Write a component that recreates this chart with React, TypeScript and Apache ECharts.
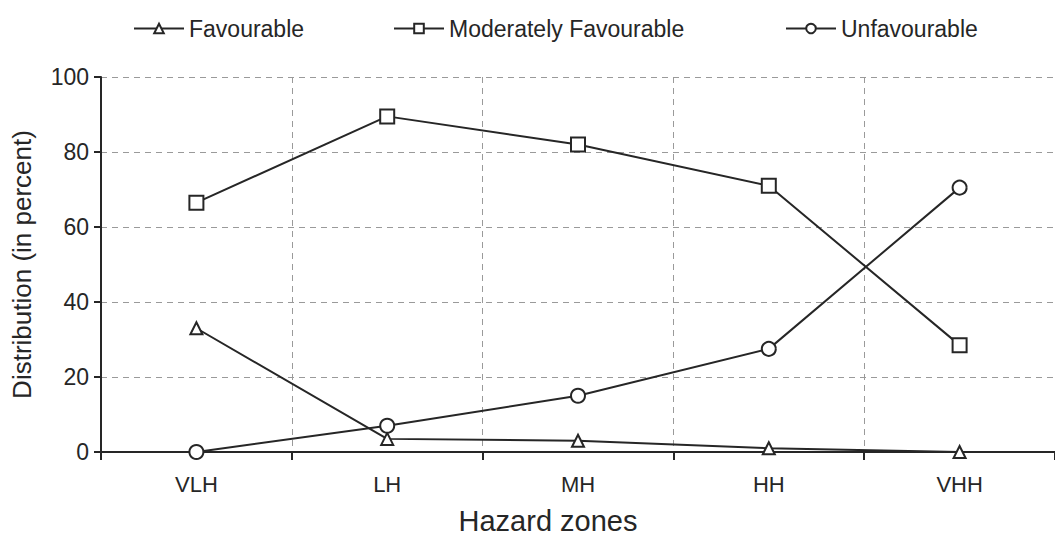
import React, { useEffect, useRef } from "react";
import * as echarts from "echarts";

const categories = ["VLH", "LH", "MH", "HH", "VHH"];
const favourable = [33, 3.5, 3, 1, 0];
const moderatelyFavourable = [66.5, 89.5, 82, 71, 28.5];
const unfavourable = [0, 7, 15, 27.5, 70.5];
const seriesNames = ["Favourable", "Moderately Favourable", "Unfavourable"];
const yMin = 0;
const yMax = 100;
const yStep = 20;

const INK = "#262626";
const FONT = "'Liberation Sans', Arial, sans-serif";

export default function App() {
  const ref = useRef<HTMLDivElement>(null);

  useEffect(() => {
    if (!ref.current) return;
    const chart = echarts.init(ref.current, undefined, { renderer: "svg" });

    const lineSeries = (name: string, data: number[], symbol: string, size: number) => ({
      name,
      type: "line",
      data,
      symbol,
      symbolSize: size,
      showAllSymbol: true,
      lineStyle: { color: INK, width: 2 },
      itemStyle: { color: "#ffffff", borderColor: INK, borderWidth: 2 },
      emphasis: { disabled: true },
    });

    const legendBase = {
      top: 12,
      itemWidth: 50,
      itemHeight: 12,
      itemGap: 0,
      textStyle: { fontFamily: FONT, fontSize: 23, color: INK, padding: [0, 0, 0, 0] },
      selectedMode: false,
    };

    chart.setOption({
      animation: false,
      backgroundColor: "#ffffff",
      textStyle: { fontFamily: FONT },
      legend: [
        { ...legendBase, left: 128, data: [seriesNames[0]] },
        { ...legendBase, left: 388, data: [seriesNames[1]] },
        { ...legendBase, left: 780, data: [seriesNames[2]] },
      ],
      grid: { left: 101, right: -10, top: 77, bottom: 86, containLabel: false },
      xAxis: {
        type: "category",
        data: categories,
        boundaryGap: true,
        name: "Hazard zones",
        nameLocation: "middle",
        nameGap: 54,
        nameTextStyle: { fontFamily: FONT, fontSize: 29, color: INK, padding: [0, 60, 0, 0] },
        axisLine: { show: true, lineStyle: { color: INK, width: 2 } },
        axisTick: { show: true, alignWithLabel: false, length: 8, lineStyle: { color: INK, width: 2 } },
        axisLabel: { fontFamily: FONT, fontSize: 22, color: INK, margin: 21 },
        splitLine: { show: true, lineStyle: { color: "#9a9a9a", type: [6, 5], width: 1 } },
      },
      yAxis: {
        type: "value",
        min: yMin,
        max: yMax,
        interval: yStep,
        name: "Distribution (in percent)",
        nameLocation: "middle",
        nameGap: 66,
        nameTextStyle: { fontFamily: FONT, fontSize: 26, color: INK },
        axisLine: { show: true, lineStyle: { color: INK, width: 2 } },
        axisTick: { show: true, length: 7, lineStyle: { color: INK, width: 2 } },
        axisLabel: { fontFamily: FONT, fontSize: 23, color: INK, margin: 12 },
        splitLine: { show: true, lineStyle: { color: "#9a9a9a", type: [6, 5], width: 1 } },
      },
      series: [
        lineSeries(seriesNames[0], favourable, "triangle", 12),
        lineSeries(seriesNames[1], moderatelyFavourable, "rect", 14),
        lineSeries(seriesNames[2], unfavourable, "circle", 14),
      ],
    });

    return () => chart.dispose();
  }, []);

  return (
    <div
      ref={ref}
      style={{ position: "fixed", left: 0, top: 0, width: 1055, height: 540, background: "#fff" }}
    />
  );
}
